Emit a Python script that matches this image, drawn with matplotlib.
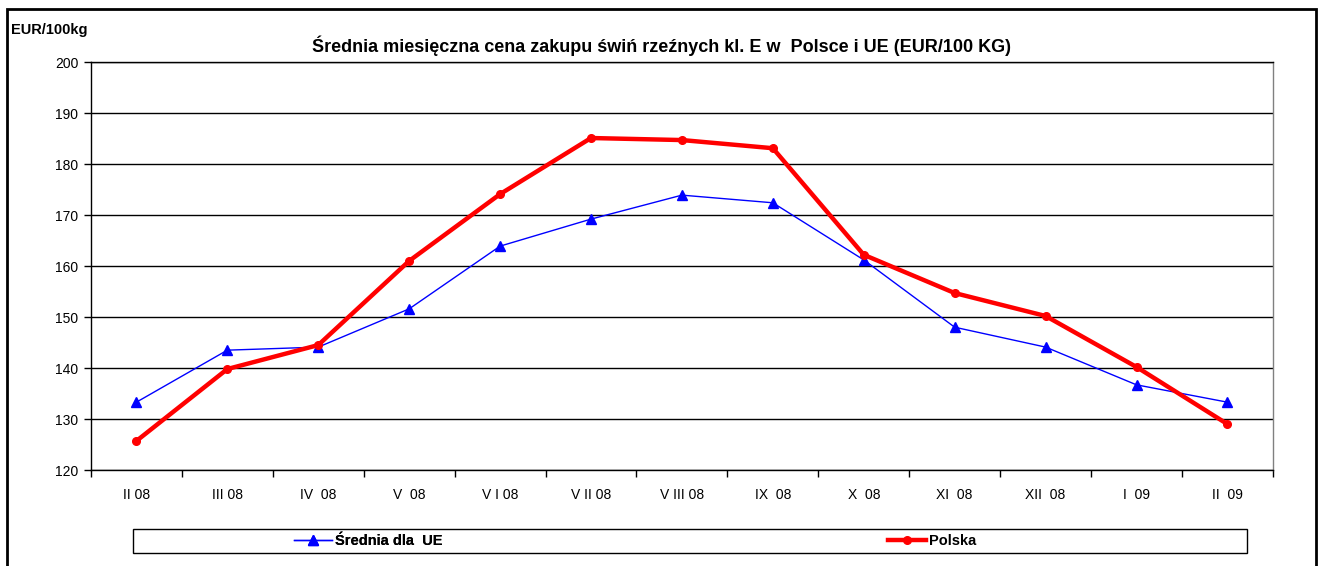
import matplotlib
matplotlib.use('Agg')
import matplotlib.pyplot as plt
from matplotlib.patches import Rectangle
import numpy as np

plt.rcParams['font.family'] = ['Liberation Sans', 'DejaVu Sans']

months = ['II 08', 'III 08', 'IV  08', 'V  08', 'V I 08', 'V II 08', 'V III 08',
          'IX  08', 'X  08', 'XI  08', 'XII  08', 'I  09', 'II  09']
ue_avg = [133.3, 143.5, 144.1, 151.6, 163.9, 169.2, 173.9, 172.4, 161.2, 148.0, 144.1, 136.7, 133.3]
polska = [125.7, 139.8, 144.5, 161.0, 174.1, 185.1, 184.7, 183.1, 162.2, 154.7, 150.2, 140.2, 129.0]

fig = plt.figure(figsize=(13.24, 5.66), dpi=100)
ax = fig.add_axes([0.0687, 0.1696, 0.8927, 0.7208])

x = np.arange(len(months))
l_ue, = ax.plot(x, ue_avg, color='#0000ff', linewidth=1, marker='^',
                markersize=7, label='Średnia dla  UE', zorder=3)
l_pl, = ax.plot(x, polska, color='#ff0000', linewidth=3.2, marker='o',
                markersize=5.5, label='Polska', zorder=4)

ax.set_xlim(-0.5, len(months) - 0.5)
ax.set_ylim(120, 200)
ax.set_yticks(np.arange(120, 201, 10))
ax.yaxis.grid(True, color='black', linewidth=1)
ax.set_axisbelow(True)

# Excel-style category axis: ticks on boundaries, labels centred
ax.set_xticks(np.arange(-0.5, len(months)), minor=False)
ax.set_xticklabels([])
ax.set_xticks(x, minor=True)
ax.set_xticklabels(months, minor=True, fontsize=10)
ax.tick_params(axis='x', which='major', direction='out', length=5, width=1)
ax.tick_params(axis='x', which='minor', length=0, pad=13)
ax.tick_params(axis='y', direction='out', length=5, width=1, labelsize=10, pad=4)

ax.spines['right'].set_color('#808080')
ax.spines['top'].set_color('black')
for s in ax.spines.values():
    s.set_linewidth(1)

fig.text(0.5, 0.920, 'Średnia miesięczna cena zakupu świń rzeźnych kl. E w  Polsce i UE (EUR/100 KG)',
         ha='center', va='center', fontsize=13, fontweight='bold')
fig.text(0.008, 0.947, 'EUR/100kg', ha='left', va='center', fontsize=10.5, fontweight='bold')

# outer chart border
fig.patches.append(Rectangle((0.0053, -0.05), 0.9887, 1.034, transform=fig.transFigure,
                             fill=False, edgecolor='black', linewidth=2))
# legend box
fig.patches.append(Rectangle((0.1005, 0.023), 0.8414, 0.0424, transform=fig.transFigure,
                             fill=False, edgecolor='black', linewidth=1))

leg_kw = dict(frameon=False, loc='center left', borderpad=0, borderaxespad=0,
              handlelength=2.6, handletextpad=0.2,
              prop={'weight': 'bold', 'size': 10.5})
leg1 = fig.legend(handles=[l_ue], bbox_to_anchor=(0.222, 0.0442), **leg_kw)
fig.add_artist(leg1)
fig.legend(handles=[l_pl], bbox_to_anchor=(0.6707, 0.0442), **leg_kw)

fig.savefig('out.png', dpi=100)
